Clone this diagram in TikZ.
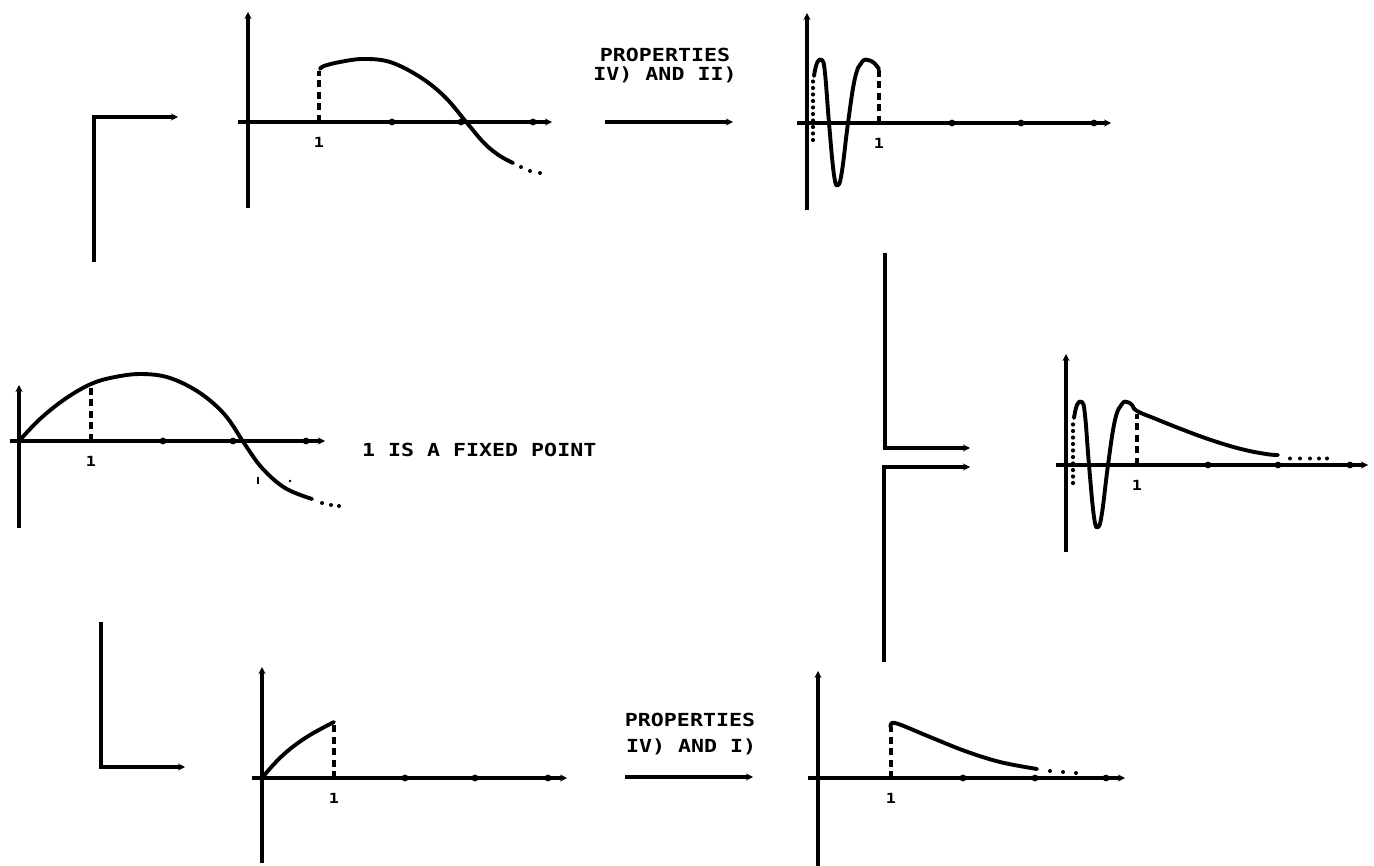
\documentclass[tikz,border=0pt]{standalone}
\usepackage{fontspec}
\newfontfamily\dm{DejaVu Sans Mono}[FakeStretch=1.2]
\usetikzlibrary{arrows.meta}
\begin{document}
\begin{tikzpicture}[x=1pt,y=-1pt,
  ax/.style={line width=3.2pt,-{Stealth[length=7pt,width=7pt]}},
  crv/.style={line width=3.9pt,line cap=round,line join=round},
  dsh/.style={line width=3.4pt,dash pattern=on 7pt off 4.5pt},
  dts/.style={line width=4.2pt,line cap=round,dash pattern=on 0pt off 6.5pt},
  lbl/.style={font=\dm\bfseries\fontsize{18}{18}\selectfont,inner sep=0pt},
  one/.style={font=\dm\bfseries\fontsize{14}{14}\selectfont,inner sep=0pt},
  brk/.style={line width=3.2pt,-{Stealth[length=7pt,width=7pt]}},
  tk/.style={fill=black,radius=3.4pt}
]
\useasboundingbox[fill=white] (0,0) rectangle (1374,866);

% ---------- brackets ----------
\coordinate (b1s) at (94,262); \coordinate (b1c) at (94,117); \coordinate (b1e) at (178,117);
\draw[brk] (b1s) -- (b1c) -- (b1e);
\coordinate (b2s) at (885,253); \coordinate (b2c) at (885,448); \coordinate (b2e) at (970,448);
\draw[brk] (b2s) -- (b2c) -- (b2e);
\coordinate (b3s) at (884,662); \coordinate (b3c) at (884,467); \coordinate (b3e) at (970,467);
\draw[brk] (b3s) -- (b3c) -- (b3e);
\coordinate (b4s) at (101,622); \coordinate (b4c) at (101,767); \coordinate (b4e) at (185,767);
\draw[brk] (b4s) -- (b4c) -- (b4e);

% ---------- labelled arrows ----------
\node[lbl] (p1) at (665,55) {PROPERTIES};
\node[lbl] (p2) at (665,75) {IV) AND II)};
\coordinate (a1s) at (605,122); \coordinate (a1e) at (733,122);
\draw[brk] (a1s) -- (a1e);
\node[lbl] (q1) at (690,720) {PROPERTIES};
\node[lbl,anchor=west] (q2) at (626,747) {IV) AND I)};
\coordinate (a2s) at (625,777); \coordinate (a2e) at (753,777);
\draw[brk] (a2s) -- (a2e);
\node[lbl,anchor=west] (fp) at (362,450) {1 IS A FIXED POINT};

% ---------- G1 top left ----------
\draw[ax] (238,122) -- (552,122);
\draw[ax] (248,208) -- (248,12);
\foreach \t in {392,461,533} \fill[tk] (\t,122) circle;
\node[one] (g1one) at (319,142) {1};
\draw[dsh] (319,122) -- (319,71);
\draw[crv] plot[smooth,tension=0.6] coordinates {(320,69) (324,66) (340,62) (363,59) (390,62) (420,77) (445,97) (467,123) (485,144) (500,156) (513,163)};
\foreach \x/\y in {521/167,530/171,540/173} \fill (\x,\y) circle (2pt);

% ---------- G2 top right ----------
\draw[ax] (797,123) -- (1111,123);
\draw[ax] (807,210) -- (807,13);
\foreach \t in {952,1021,1094} \fill[tk] (\t,123) circle;
\node[one] (g2one) at (879,143) {1};
\begin{scope}[shift={(807,123)}]
  \draw[dts] (6,17) -- (6,-44);
  \draw[dsh] (72,0) -- (72,-54);
  \draw[crv] plot[smooth,tension=0.7] coordinates {(7,-47) (10,-60) (15,-63) (18,-50) (22,0) (27,52) (31,62) (35,48) (41,0) (48,-45) (55,-61) (61,-63) (67,-60) (72,-54)};
\end{scope}

% ---------- G3 middle left ----------
\draw[ax] (10,441) -- (325,441);
\draw[ax] (19,528) -- (19,385);
\foreach \t in {163,233,306} \fill[tk] (\t,441) circle;
\node[one] (g3one) at (91,461) {1};
\draw[dsh] (91,441) -- (91,386);
\draw[crv] plot[smooth,tension=0.6] coordinates {(19,441) (40,419) (65,399) (91,384) (115,377) (142,374) (170,378) (200,393) (225,415) (244,443) (262,468) (285,488) (312,499)};
\foreach \x/\y in {322/503,331/505,339/506} \fill (\x,\y) circle (2pt);
\draw[line width=1.4pt] (258,477) -- (258,484);
\fill (290,481) circle (1.3pt);

% ---------- G4 right ----------
\draw[ax] (1056,465) -- (1368,465);
\draw[ax] (1066,552) -- (1066,354);
\foreach \t in {1208,1278,1350} \fill[tk] (\t,465) circle;
\node[one] (g4one) at (1137,485) {1};
\begin{scope}[shift={(1066,465)}]
  \draw[dts] (7,18) -- (7,-44);
  \draw[dsh] (71,0) -- (71,-51);
  \draw[crv] plot[smooth,tension=0.7] coordinates {(8,-47) (11,-60) (16,-63) (19,-50) (23,0) (28,52) (32,62) (36,48) (42,0) (49,-45) (56,-61) (61,-63) (66,-60) (71,-54) (90,-46) (115,-36) (145,-25) (175,-16) (200,-11) (212,-10)};
\end{scope}
\foreach \x in {1290,1300,1310,1319,1327} \fill (\x,458.5) circle (2pt);

% ---------- G5 bottom left ----------
\draw[ax] (252,778) -- (567,778);
\draw[ax] (262,863) -- (262,667);
\foreach \t in {405,475,548} \fill[tk] (\t,778) circle;
\node[one] (g5one) at (334,798) {1};
\draw[dsh] (334,778) -- (334,725);
\draw[crv] plot[smooth,tension=0.6] coordinates {(262,778) (275,763) (290,749) (310,735) (334,722)};

% ---------- G6 bottom right ----------
\draw[ax] (808,778) -- (1125,778);
\draw[ax] (818,866) -- (818,671);
\foreach \t in {963,1035,1106} \fill[tk] (\t,778) circle;
\node[one] (g6one) at (891,798) {1};
\draw[dsh] (891,778) -- (891,728);
\draw[crv] plot[smooth,tension=0.6] coordinates {(891,728) (895,723) (930,737) (965,751) (1000,762) (1037,769)};
\foreach \x/\y in {1050/771,1063/772,1076/773} \fill (\x,\y) circle (2pt);
\end{tikzpicture}
\end{document}
